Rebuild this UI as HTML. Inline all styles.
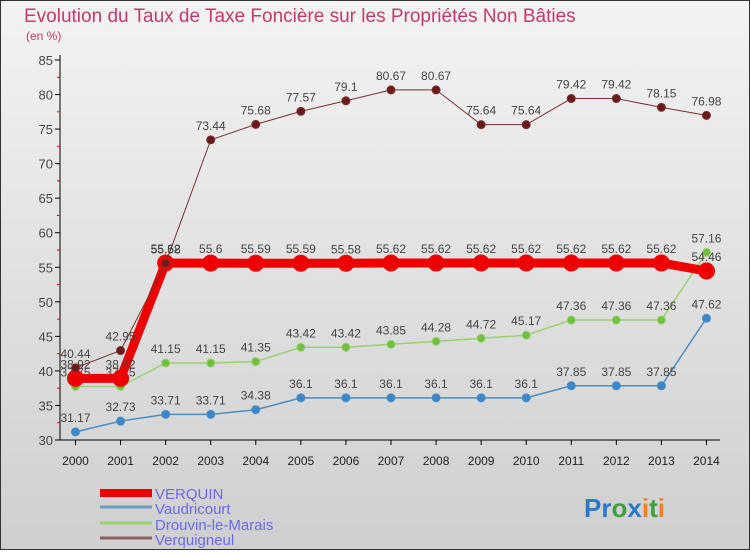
<!DOCTYPE html>
<html><head><meta charset="utf-8"><style>
body{margin:0;width:750px;height:550px;overflow:hidden;font-family:"Liberation Sans",sans-serif}
svg text{font-family:"Liberation Sans",sans-serif}
</style></head><body>
<svg id="c" width="750" height="550" xmlns="http://www.w3.org/2000/svg">
<defs><linearGradient id="bg" x1="0" y1="0" x2="0" y2="1"><stop offset="0" stop-color="#f3f3f3"/><stop offset="1" stop-color="#cfcfcf"/></linearGradient></defs>
<rect x="0.5" y="0.5" width="749" height="549" fill="url(#bg)" stroke="#333"/>
<text x="24" y="22" font-size="19" fill="#c8386c">Evolution du Taux de Taxe Foncière sur les Propriétés Non Bâties</text>
<text x="26" y="40" font-size="12" fill="#c8386c">(en %)</text>
<g id="axes"></g><g id="series"></g>
<g>
<rect x="100" y="489" width="52" height="8" fill="#e00"/>
<text x="155" y="499" font-size="15" fill="#6a6aee">VERQUIN</text>
<line x1="100" y1="507" x2="152" y2="507" stroke="#6a9ec8" stroke-width="3"/>
<text x="155" y="514" font-size="15" fill="#6a6aee">Vaudricourt</text>
<line x1="100" y1="523" x2="152" y2="523" stroke="#99d070" stroke-width="3"/>
<text x="155" y="530" font-size="15" fill="#6a6aee">Drouvin-le-Marais</text>
<line x1="100" y1="538" x2="152" y2="538" stroke="#8a6060" stroke-width="3"/>
<text x="155" y="545" font-size="15" fill="#6a6aee">Verquigneul</text>
</g>
<text x="584" y="517" font-size="26" font-weight="bold"><tspan fill="#2a7ac8">Pr</tspan><tspan fill="#40a040">o</tspan><tspan fill="#2a7ac8">x</tspan><tspan fill="#f08020">i</tspan><tspan fill="#40a040">t</tspan><tspan fill="#f08020">i</tspan></text>
</svg>
<script>
const years=[2000,2001,2002,2003,2004,2005,2006,2007,2008,2009,2010,2011,2012,2013,2014];
const yTicks=[30,35,40,45,50,55,60,65,70,75,80,85];
const verquin=[38.92,38.92,55.62,55.6,55.59,55.59,55.58,55.62,55.62,55.62,55.62,55.62,55.62,55.62,54.46];
const vaudricourt=[31.17,32.73,33.71,33.71,34.38,36.1,36.1,36.1,36.1,36.1,36.1,37.85,37.85,37.85,47.62];
const drouvin=[37.75,37.75,41.15,41.15,41.35,43.42,43.42,43.85,44.28,44.72,45.17,47.36,47.36,47.36,57.16];
const verquigneul=[40.44,42.95,55.58,73.44,75.68,77.57,79.1,80.67,80.67,75.64,75.64,79.42,79.42,78.15,76.98];
const NS="http://www.w3.org/2000/svg";
const X=i=>75.5+i*45.07, Y=v=>440-(v-30)*(380/55);
function mk(t,a,p){const e=document.createElementNS(NS,t);for(const k in a)e.setAttribute(k,a[k]);p.appendChild(e);return e;}
const ax=document.getElementById('axes');
const yl=mk('line',{x1:60,y1:55,x2:60,y2:440,stroke:'#000'},ax);


const xl=mk('line',{x1:60,y1:440,x2:720,y2:440,stroke:'#000'},ax);


yTicks.forEach(v=>{
  mk('line',{x1:55,y1:Y(v),x2:60,y2:Y(v),stroke:'#000'},ax);
  if(v<85) mk('line',{x1:57,y1:Y(v+2.5),x2:60,y2:Y(v+2.5),stroke:'#e00'},ax);
  const t=mk('text',{x:53,y:Y(v)+5,'font-size':13,'text-anchor':'end',fill:'#444'},ax);t.textContent=v;
  
  
});
years.forEach((y,i)=>{
  mk('line',{x1:X(i),y1:440,x2:X(i),y2:445,stroke:'#000'},ax);
  const t=mk('text',{x:X(i),y:465,'font-size':12,'text-anchor':'middle',fill:'#222'},ax);t.textContent=y;
  
  
});
const sg=document.getElementById('series');
function series(d,name,col,dot,lw,r){
  const g=mk('g',{},sg);
  
  
  mk('polyline',{points:d.map((v,i)=>X(i)+','+Y(v)).join(' '),fill:'none',stroke:col,'stroke-width':lw},g);
  d.forEach((v,i)=>{
    const c=mk('circle',{cx:X(i),cy:Y(v),r:r,fill:dot,stroke:col,'stroke-width':1},g);
    
    
    const t=mk('text',{x:X(i),y:Y(v)-10,'font-size':12,'text-anchor':'middle',fill:'#444'},g);t.textContent=v;
    
    
  });
}
series(vaudricourt,'vaudricourt','#4a8cc0','#3a88cc',1.5,4);
series(drouvin,'drouvin','#99d070','#70c040',1.5,4);
series(verquin,'verquin','#ee0000','#ee0000',9,8);
series(verquigneul,'verquigneul','#7a3030','#6a1a1a',1,4);
</script>
</body></html>
